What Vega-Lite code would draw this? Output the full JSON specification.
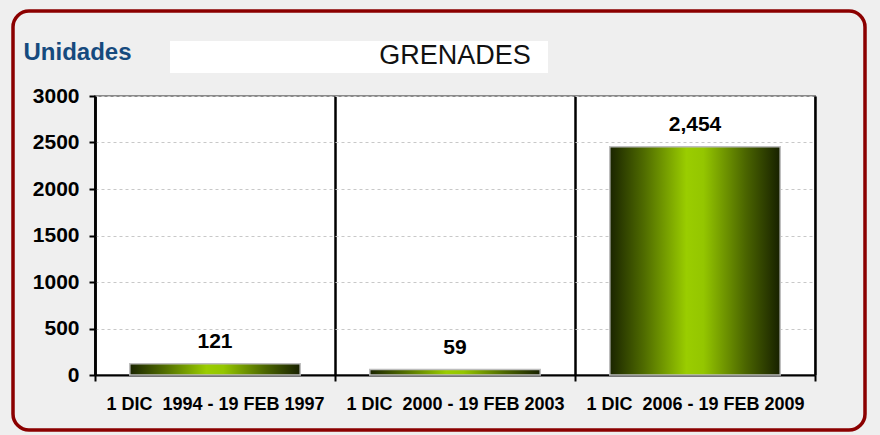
{
  "$schema": "https://vega.github.io/schema/vega-lite/v6.json",
  "width": 720,
  "height": 279,
  "autosize": {"type": "none"},
  "padding": {"left": 95, "top": 96, "right": 65, "bottom": 60},
  "background": "#efefef",
  "title": {"text": "GRENADES", "fontSize": 27, "fontWeight": "normal", "color": "#111111", "anchor": "middle", "frame": "group", "baseline": "alphabetic", "offset": -82},
  "data": {"values": [
    {"period": "1 DIC \u00a01994 - 19 FEB 1997", "units": 121},
    {"period": "1 DIC \u00a02000 - 19 FEB 2003", "units": 59},
    {"period": "1 DIC \u00a02006 - 19 FEB 2009", "units": 2454}
  ]},
  "encoding": {
    "x": {"field": "period", "type": "nominal", "sort": null, "scale": {"paddingInner": 0, "paddingOuter": 0}, "axis": {"title": null}}
  },
  "layer": [
    {
      "mark": {
        "type": "bar",
        "width": {"band": 0.71},
        "strokeWidth": 1.5,
        "fill": {"gradient": "linear", "x1": 0, "y1": 0, "x2": 1, "y2": 0,
          "stops": [
            {"offset": 0, "color": "#1a2400"},
            {"offset": 0.2, "color": "#4f6b00"},
            {"offset": 0.45, "color": "#9acd00"},
            {"offset": 0.55, "color": "#94c600"},
            {"offset": 0.8, "color": "#4a6400"},
            {"offset": 1, "color": "#172000"}
          ]}
      },
      "encoding": {
        "y": {"aggregate": "sum", "field": "units", "type": "quantitative", "scale": {"domain": [0, 3000]}, "axis": {"title": "Unidades", "tickCount": 6, "format": "d"}},
        "stroke": {"aggregate": "sum", "field": "units", "type": "quantitative", "scale": {"range": ["#bdbdbd", "#bdbdbd"]},
          "legend": {"orient": "none", "legendX": 75, "legendY": -55, "direction": "horizontal", "gradientLength": 378, "gradientThickness": 31, "padding": 0, "title": null, "fillColor": "#ffffff", "labelOpacity": 0, "labelFontSize": 1, "labelOffset": 0, "gradientStrokeWidth": 0,
            "encode": {"gradient": {"update": {"opacity": {"value": 0}}}}}}
      }
    },
    {
      "mark": {"type": "text", "baseline": "alphabetic", "dy": -16, "fontSize": 21, "fontWeight": "bold"},
      "encoding": {
        "y": {"field": "units", "type": "quantitative", "axis": {"title": "Unidades", "tickCount": 6, "format": "d"}},
        "text": {"field": "units", "type": "quantitative", "format": ","},
        "color": {"field": "units", "type": "quantitative", "scale": {"range": ["#000000", "#000000"]},
          "legend": {"orient": "none", "legendX": -82, "legendY": -85, "direction": "horizontal", "gradientLength": 852, "gradientThickness": 418, "padding": 0, "title": null, "strokeColor": "#8b0000", "cornerRadius": 16, "labelOpacity": 0, "labelFontSize": 1, "labelOffset": 0, "gradientStrokeWidth": 0,
            "encode": {"gradient": {"update": {"opacity": {"value": 0}}}, "legend": {"update": {"strokeWidth": {"value": 3.5}}}}}}
      }
    }
  ],
  "config": {
    "font": "Liberation Sans",
    "view": {"fill": "#ffffff", "stroke": "#8a8a8a", "strokeWidth": 2},
    "legend": {"gradientHorizontalMaxLength": 1000},
    "axisY": {"domainColor": "#000000", "domainWidth": 2.5, "tickColor": "#000000", "tickWidth": 2, "tickSize": 6, "labelFontSize": 21, "labelFontWeight": "bold", "labelColor": "#000000", "labelPadding": 10, "gridColor": "#c8c8c8", "gridDash": [3, 3], "gridWidth": 1, "titleAngle": 0, "titleAlign": "left", "titleBaseline": "alphabetic", "titleX": -72, "titleY": -37, "titleFontSize": 24, "titleFontWeight": "bold", "titleColor": "#164a7e"},
    "axisX": {"domainColor": "#000000", "domainWidth": 2, "tickColor": "#000000", "tickWidth": 2, "tickSize": 6, "tickBand": "extent", "grid": true, "gridColor": "#000000", "gridWidth": 2.5, "labelFontSize": 18, "labelFontWeight": "bold", "labelColor": "#000000", "labelAngle": 0, "labelPadding": 28, "labelBaseline": "alphabetic", "labelLimit": 300}
  }
}
